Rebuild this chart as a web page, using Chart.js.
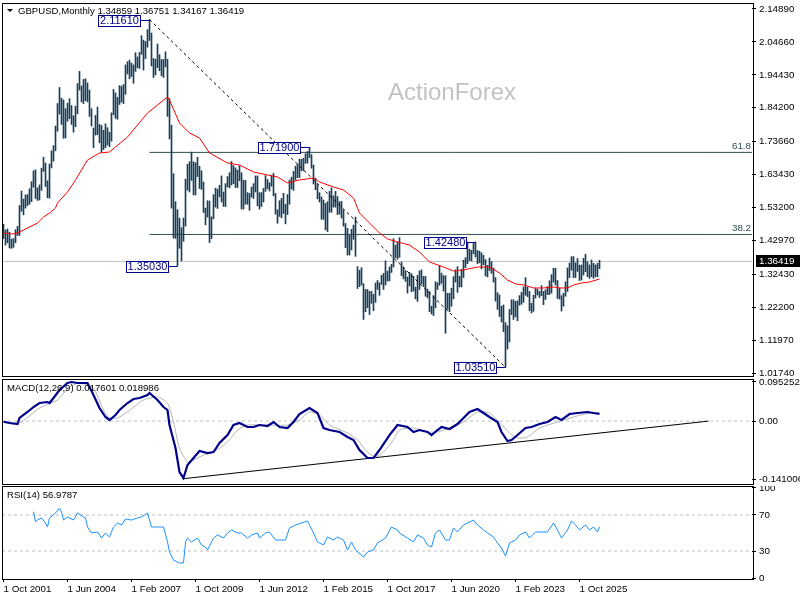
<!DOCTYPE html>
<html>
<head>
<meta charset="utf-8">
<title>GBPUSD Monthly</title>
<script src="https://cdn.jsdelivr.net/npm/chart.js@4.4.1/dist/chart.umd.min.js"></script>
<style>
  html, body { margin: 0; padding: 0; background: #fff; }
  #wrap { position: relative; width: 800px; height: 600px; overflow: hidden; }
  #wrap canvas { position: absolute; left: 0; }
</style>
</head>
<body>
<div id="wrap">
  <canvas id="priceChart" width="800" height="378" style="top:0"></canvas>
  <canvas id="macdChart" width="800" height="108" style="top:378px"></canvas>
  <canvas id="rsiChart" width="800" height="114" style="top:486px"></canvas>
</div>
<script>
// Monthly bars, index 0 = Oct 2001
const highs = [
  1.4800, 1.4620, 1.4650,
  1.4550, 1.4340, 1.4350, 1.4630, 1.4730, 1.5380, 1.5830, 1.5580, 1.5710, 1.5720, 1.5900, 1.6120,
  1.6460, 1.6490, 1.5930, 1.6020, 1.6540, 1.6880, 1.6700, 1.6150, 1.6670, 1.7080, 1.7240, 1.7850,
  1.8550, 1.9050, 1.8720, 1.8660, 1.8390, 1.8560, 1.8700, 1.8490, 1.8170, 1.8470, 1.9170, 1.9550,
  1.9100, 1.9300, 1.9320, 1.9190, 1.8970, 1.8390, 1.7790, 1.8180, 1.8440, 1.7900, 1.7870, 1.7720,
  1.7920, 1.7800, 1.7660, 1.8260, 1.8990, 1.8880, 1.8740, 1.9110, 1.9090, 1.9140, 1.9750, 1.9850,
  1.9900, 1.9810, 1.9750, 2.0130, 2.0000, 2.0140, 2.0660, 2.0520, 2.0480, 2.0850, 2.1161, 2.0740,
  1.9950, 1.9930, 2.0400, 2.0070, 1.9920, 1.9920, 2.0160, 1.9930, 1.8700, 1.7880, 1.6370, 1.5500,
  1.5250, 1.4990, 1.4690, 1.4990, 1.6200, 1.6660, 1.6740, 1.7040, 1.6740, 1.6710, 1.6880, 1.6600,
  1.6460, 1.6110, 1.5300, 1.5530, 1.5520, 1.5030, 1.5720, 1.5920, 1.5890, 1.6010, 1.6300, 1.5800,
  1.6060, 1.6280, 1.6400, 1.6750, 1.6620, 1.6550, 1.6480, 1.6620, 1.6400, 1.6170, 1.6160, 1.5780,
  1.5760, 1.5950, 1.6060, 1.6300, 1.6300, 1.5780, 1.5780, 1.5910, 1.6310, 1.6190, 1.6090, 1.6310,
  1.6380, 1.5760, 1.5250, 1.5530, 1.5600, 1.5760, 1.5420, 1.5720, 1.6170, 1.6260, 1.6440, 1.6600,
  1.6670, 1.6820, 1.6820, 1.6850, 1.6990, 1.7060, 1.7190, 1.6960, 1.6640, 1.6230, 1.6030, 1.5780,
  1.5650, 1.5550, 1.5450, 1.5500, 1.5820, 1.5930, 1.5680, 1.5820, 1.5660, 1.5500, 1.5510, 1.5240,
  1.4820, 1.4670, 1.4460, 1.4640, 1.4770, 1.5020, 1.3480, 1.3370, 1.3450, 1.2950, 1.2770, 1.2770,
  1.2710, 1.2710, 1.2620, 1.2970, 1.3050, 1.2980, 1.3210, 1.3270, 1.3660, 1.3340, 1.3470, 1.3550,
  1.4350, 1.4150, 1.4240, 1.4380, 1.3620, 1.3470, 1.3360, 1.3160, 1.3300, 1.3260, 1.3180, 1.2840,
  1.3210, 1.3350, 1.3380, 1.3180, 1.3180, 1.2780, 1.2710, 1.2250, 1.2580, 1.3010, 1.2980, 1.3510,
  1.3280, 1.3200, 1.3200, 1.2650, 1.2650, 1.2810, 1.3170, 1.3380, 1.3480, 1.3180, 1.3400, 1.3680,
  1.3760, 1.4240, 1.4020, 1.3990, 1.4220, 1.4248, 1.3980, 1.3960, 1.3910, 1.3830, 1.3700, 1.3520,
  1.3750, 1.3640, 1.3440, 1.3140, 1.2670, 1.2600, 1.2250, 1.2290, 1.1740, 1.1640, 1.2150, 1.2450,
  1.2450, 1.2400, 1.2420, 1.2580, 1.2680, 1.2850, 1.3140, 1.2840, 1.2710, 1.2340, 1.2590, 1.2800,
  1.2780, 1.2710, 1.2890, 1.2710, 1.2760, 1.2860, 1.3040, 1.3230, 1.3430, 1.3430, 1.3050, 1.2810,
  1.2580, 1.2650, 1.3010, 1.3440, 1.3590, 1.3790, 1.3790, 1.3600, 1.3730, 1.3530, 1.3530, 1.3740,
  1.3870, 1.3635, 1.3532, 1.3687, 1.3584, 1.3532, 1.3584, 1.36751
];
const lows = [
  1.4350, 1.4150, 1.4220,
  1.4060, 1.4050, 1.4080, 1.4220, 1.4450, 1.4450, 1.5200, 1.5090, 1.5300, 1.5380, 1.5420, 1.5500,
  1.5950, 1.5600, 1.5540, 1.5550, 1.5850, 1.6440, 1.5970, 1.5620, 1.5610, 1.6550, 1.6760, 1.7080,
  1.7690, 1.8220, 1.7900, 1.7470, 1.7480, 1.8000, 1.8080, 1.7900, 1.7660, 1.7830, 1.8230, 1.8970,
  1.8600, 1.8550, 1.8640, 1.8600, 1.8150, 1.7850, 1.7180, 1.7570, 1.7580, 1.7330, 1.7040, 1.7120,
  1.7180, 1.7260, 1.7210, 1.7380, 1.8200, 1.8090, 1.8060, 1.8520, 1.8590, 1.8550, 1.8840, 1.9470,
  1.9320, 1.9390, 1.9180, 1.9550, 1.9660, 1.9640, 2.0080, 1.9590, 1.9950, 2.0300, 2.0510, 1.9720,
  1.9360, 1.9440, 1.9670, 1.9570, 1.9410, 1.9360, 1.9690, 1.8150, 1.7450, 1.5300, 1.4370, 1.4360,
  1.3503, 1.4050, 1.3660, 1.4270, 1.4740, 1.5860, 1.5800, 1.6160, 1.5710, 1.5710, 1.6280, 1.5910,
  1.5880, 1.5160, 1.4780, 1.5020, 1.4230, 1.4350, 1.4970, 1.5330, 1.5290, 1.5650, 1.5490, 1.5350,
  1.5350, 1.5960, 1.5930, 1.6020, 1.6060, 1.5940, 1.5940, 1.6150, 1.5270, 1.5270, 1.5420, 1.5420,
  1.5230, 1.5640, 1.5600, 1.5800, 1.5370, 1.5270, 1.5350, 1.5490, 1.5820, 1.5900, 1.5830, 1.5980,
  1.5680, 1.5110, 1.4830, 1.5040, 1.5000, 1.5130, 1.4810, 1.5100, 1.5420, 1.5890, 1.5850, 1.6180,
  1.6250, 1.6250, 1.6460, 1.6460, 1.6690, 1.6700, 1.6870, 1.6540, 1.6050, 1.5870, 1.5590, 1.5490,
  1.4950, 1.4950, 1.4630, 1.4570, 1.5170, 1.5170, 1.5330, 1.5330, 1.5100, 1.5110, 1.4990, 1.4740,
  1.4070, 1.3840, 1.3840, 1.4000, 1.4330, 1.3800, 1.2800, 1.2860, 1.2910, 1.1840, 1.2080, 1.2200,
  1.1990, 1.2340, 1.2110, 1.2370, 1.2770, 1.2590, 1.2930, 1.2770, 1.2910, 1.3030, 1.3040, 1.3300,
  1.3470, 1.3760, 1.3710, 1.3770, 1.3200, 1.3100, 1.3020, 1.2660, 1.2880, 1.2700, 1.2720, 1.2480,
  1.2400, 1.2770, 1.2950, 1.2860, 1.2560, 1.2510, 1.2080, 1.2010, 1.1960, 1.2200, 1.2770, 1.2900,
  1.2960, 1.2720, 1.1410, 1.2160, 1.2080, 1.2250, 1.2480, 1.3000, 1.2680, 1.2850, 1.2850, 1.3140,
  1.3450, 1.3570, 1.3670, 1.3660, 1.3880, 1.3780, 1.3570, 1.3600, 1.3410, 1.3540, 1.3190, 1.3160,
  1.3360, 1.3270, 1.3000, 1.2410, 1.2150, 1.1930, 1.1760, 1.1460, 1.0351, 1.0920, 1.1140, 1.1990,
  1.1840, 1.1920, 1.1800, 1.2280, 1.2310, 1.2370, 1.2590, 1.2550, 1.2110, 1.2040, 1.2090, 1.2500,
  1.2600, 1.2520, 1.2580, 1.2300, 1.2460, 1.2610, 1.2610, 1.2660, 1.3000, 1.2910, 1.2490, 1.2470,
  1.2100, 1.2250, 1.2560, 1.2710, 1.3140, 1.3370, 1.3140, 1.3140, 1.3330, 1.3050, 1.3065, 1.3220,
  1.3324, 1.3169, 1.3117, 1.3169, 1.3117, 1.3169, 1.3169, 1.34167
];

// red moving average at these bar indices
const maIdx = [0, 4, 7, 10, 13, 17, 20, 23, 26, 27, 32, 36, 42, 48, 53, 62, 72, 82, 83, 88, 93, 98, 103, 112, 118, 125, 132, 137, 142, 148, 155, 158, 165, 170, 175, 178, 183, 188, 192, 197, 203, 208, 213, 220, 225, 230, 237, 243, 248, 252, 256, 260, 265, 270, 275, 278, 282, 285, 289, 293, 298];
const maValues = [1.4526, 1.4495, 1.4526, 1.4619, 1.4713, 1.4837, 1.5023, 1.5148, 1.5303, 1.5459, 1.5801, 1.6174, 1.6796, 1.7013, 1.7044, 1.7510, 1.8256, 1.8754, 1.8660, 1.7946, 1.7634, 1.7479, 1.7013, 1.6702, 1.6640, 1.6422, 1.6329, 1.6267, 1.6080, 1.6174, 1.6236, 1.6112, 1.5956, 1.5863, 1.5614, 1.5148, 1.4837, 1.4526, 1.4340, 1.4246, 1.4153, 1.3936, 1.3625, 1.3469, 1.3345, 1.3376, 1.3469, 1.3469, 1.3283, 1.3065, 1.2941, 1.2910, 1.2817, 1.2817, 1.2848, 1.2817, 1.2817, 1.2910, 1.2972, 1.3003, 1.3096];

// MACD(12,26,9) main and signal lines
const macdIdx = [0, 3, 7, 8, 12, 15, 18, 22, 23, 25, 28, 32, 34, 37, 40, 42, 45, 48, 51, 53, 56, 58, 62, 65, 68, 72, 73, 77, 80, 82, 83, 86, 88, 90, 92, 95, 98, 102, 105, 108, 112, 115, 118, 122, 125, 128, 132, 135, 138, 142, 145, 148, 153, 157, 160, 163, 168, 172, 175, 178, 182, 185, 188, 193, 197, 202, 205, 208, 212, 214, 217, 219, 223, 227, 230, 233, 237, 240, 243, 247, 249, 252, 254, 257, 261, 264, 268, 272, 276, 279, 283, 287, 292, 295, 298];
const macdValues = [-0.0015, -0.0046, -0.0071, 0.0076, 0.0222, 0.0343, 0.0441, 0.0465, 0.0441, 0.0563, 0.0757, 0.0928, 0.0952, 0.0928, 0.0928, 0.0928, 0.0636, 0.0319, 0.0100, 0.0027, 0.0149, 0.0271, 0.0441, 0.0539, 0.0563, 0.0636, 0.0684, 0.0514, 0.0343, 0.0271, -0.0095, -0.0655, -0.1240, -0.1386, -0.1069, -0.0899, -0.0728, -0.0777, -0.0753, -0.0533, -0.0339, -0.0095, -0.0044, -0.0144, -0.0144, -0.0095, -0.0119, -0.0022, -0.0144, -0.0168, -0.0022, 0.0173, 0.0319, 0.0197, -0.0168, -0.0217, -0.0265, -0.0387, -0.0460, -0.0704, -0.0899, -0.0899, -0.0704, -0.0339, -0.0095, -0.0144, -0.0265, -0.0217, -0.0265, -0.0339, -0.0217, -0.0144, -0.0192, -0.0071, 0.0076, 0.0222, 0.0295, 0.0197, 0.0100, -0.0022, -0.0265, -0.0485, -0.0460, -0.0339, -0.0168, -0.0144, -0.0071, -0.0022, 0.0100, 0.0027, 0.0173, 0.0197, 0.0222, 0.0197, 0.017601];
const signalIdx = [0, 8, 18, 27, 33, 38, 45, 50, 53, 57, 62, 70, 77, 82, 85, 88, 92, 95, 100, 105, 112, 117, 122, 132, 142, 148, 153, 158, 163, 172, 177, 182, 186, 190, 195, 198, 205, 212, 217, 223, 230, 237, 243, 248, 253, 257, 262, 268, 277, 285, 293, 298];
const signalValues = [-0.0010, -0.0046, 0.0319, 0.0514, 0.0831, 0.0928, 0.0806, 0.0270, 0.0076, 0.0076, 0.0222, 0.0514, 0.0587, 0.0441, -0.0022, -0.0655, -0.0996, -0.0947, -0.0826, -0.0753, -0.0509, -0.0217, -0.0095, -0.0095, -0.0095, 0.0027, 0.0222, 0.0149, -0.0095, -0.0290, -0.0460, -0.0753, -0.0874, -0.0753, -0.0460, -0.0217, -0.0168, -0.0265, -0.0265, -0.0168, -0.0022, 0.0222, 0.0197, -0.0022, -0.0290, -0.0412, -0.0387, -0.0168, -0.0022, 0.0100, 0.0197, 0.018986];
const macdTrendIdx = [89.5, 352.5];
const macdTrendValues = [-0.1405, 0.0];

// RSI(14)
const rsiIdx = [15, 16, 17, 19, 21, 22, 23, 26, 28, 29, 30, 32, 35, 37, 40, 41, 42, 44, 47, 49, 51, 53, 55, 57, 59, 61, 64, 67, 69, 72, 74, 77, 80, 82, 83, 85, 88, 90, 91, 92, 94, 97, 99, 101, 102, 105, 107, 110, 112, 114, 117, 119, 122, 124, 127, 128, 131, 133, 136, 138, 141, 143, 146, 149, 152, 155, 157, 160, 162, 165, 167, 170, 172, 174, 176, 180, 182, 185, 187, 191, 194, 197, 198, 202, 205, 207, 210, 212, 214, 216, 218, 221, 223, 225, 227, 230, 232, 235, 237, 240, 242, 245, 247, 249, 251, 253, 256, 258, 261, 263, 266, 269, 272, 275, 277, 279, 282, 284, 286, 288, 291, 293, 295, 297, 298];
const rsiValues = [73.7, 62.6, 64.4, 66.7, 61.1, 56.7, 66.7, 72.2, 77.8, 73.3, 64.4, 67.8, 64.4, 72.2, 67.8, 66.7, 56.7, 50.0, 51.1, 44.4, 50.0, 45.6, 56.7, 61.1, 58.9, 65.6, 64.4, 66.7, 67.8, 72.2, 56.7, 56.7, 56.7, 40.0, 28.9, 20.0, 16.7, 16.7, 40.0, 44.4, 40.0, 44.4, 36.7, 34.4, 31.1, 44.4, 47.8, 44.4, 50.0, 53.3, 50.0, 50.0, 44.4, 47.8, 50.0, 44.4, 50.0, 51.1, 42.2, 42.2, 42.2, 55.6, 58.9, 61.1, 63.3, 50.0, 40.0, 36.7, 45.6, 42.2, 45.6, 42.2, 31.1, 40.0, 31.1, 23.3, 28.9, 31.1, 38.9, 44.4, 56.7, 53.3, 50.0, 44.4, 40.0, 47.8, 44.4, 36.7, 34.4, 50.0, 53.3, 42.2, 42.2, 55.6, 51.1, 58.9, 61.1, 64.4, 58.9, 53.3, 50.0, 45.6, 38.9, 33.3, 24.4, 38.9, 42.2, 47.8, 51.1, 44.4, 51.1, 51.1, 51.1, 61.1, 53.3, 44.4, 53.3, 63.3, 58.9, 53.3, 58.9, 53.3, 56.7, 51.1, 56.9787];
const rsiLevels = [70, 30];

// swing-point labels, fibonacci levels
const swingIdx = [73, 153, 87, 236, 251];
const swingPrices = [2.1161, 1.7190, 1.3503, 1.4248, 1.0351];
const fibStartIdx = 73;
const fibLevels = ['61.8', '38.2'];
const fibPrices = [1.70316, 1.44804];

const ohlcHeader = [1.34859, 1.36751, 1.34167, 1.36419];
const lastPrice = 1.36419;

// axis ticks
const priceTicks = [2.14890, 2.04660, 1.94430, 1.84200, 1.73660, 1.63430, 1.53200, 1.42970, 1.32430, 1.22200, 1.11970, 1.01740];
const macdTicks = [0.095252, 0, -0.141006];
const rsiTicks = [100, 70, 30, 0];
const timeTickIdx = [0, 32, 64, 96, 128, 160, 192, 224, 256, 288];
const timeLabels = ['1 Oct 2001', '1 Jun 2004', '1 Feb 2007', '1 Oct 2009', '1 Jun 2012', '1 Feb 2015', '1 Oct 2017', '1 Jun 2020', '1 Feb 2023', '1 Oct 2025'];

const FONT = '"Liberation Sans", Arial, sans-serif';
Chart.defaults.font.family = FONT;
Chart.defaults.font.size = 9.8;
Chart.defaults.color = '#000';

const xMin = -0.75, xMax = 374.25;

function zeroPad(axis) {
    axis.paddingLeft = 0; axis.paddingRight = 0; axis.paddingTop = 0; axis.paddingBottom = 0;
}

function hiddenX() {
    return { type: 'linear', min: xMin, max: xMax, offset: false, display: false, afterFit: zeroPad };
}

function rightAxis(min, max, ticks, fmt) {
    return {
        type: 'linear', position: 'right', min: min, max: max,
        afterBuildTicks: function(axis) { axis.ticks = ticks.map(v => ({ value: v })); },
        afterFit: function(axis) { axis.width = 48; zeroPad(axis); },
        border: { display: false },
        grid: { drawOnChartArea: false, drawTicks: true, tickLength: 4, color: '#000' },
        ticks: { padding: 3, autoSkip: false, color: '#000', callback: fmt }
    };
}

function points(xs, ys) {
    return xs.map((x, k) => ({ x: x, y: ys[k] }));
}

function flatLine(v, from) {
    return [{ x: from, y: v }, { x: xMax, y: v }];
}

function frame(chart) {
    const ctx = chart.ctx, a = chart.chartArea;
    ctx.save();
    ctx.strokeStyle = '#000';
    ctx.lineWidth = 1;
    ctx.strokeRect(a.left + 0.5, a.top + 0.5, a.right - a.left + 1, a.bottom - a.top);
    ctx.restore();
}

function panelTitle(ctx, text, x, y) {
    ctx.save();
    ctx.font = '9.6px ' + FONT;
    ctx.fillStyle = '#000';
    ctx.textAlign = 'left';
    ctx.textBaseline = 'middle';
    ctx.fillText(text, x, y);
    ctx.restore();
}

const baseOptions = {
    responsive: false,
    animation: false,
    events: [],
    plugins: { legend: { display: false }, tooltip: { enabled: false } }
};

// ---------- price panel ----------
const priceOverlay = {
    id: 'priceOverlay',
    beforeDatasetsDraw(chart) {
        const ctx = chart.ctx;
        ctx.save();
        ctx.font = '24px ' + FONT;
        ctx.fillStyle = '#c3c3c3';
        ctx.textAlign = 'left';
        ctx.textBaseline = 'middle';
        ctx.fillText('ActionForex', 388, 93);
        ctx.restore();
    },
    afterDatasetsDraw(chart) {
        const ctx = chart.ctx, a = chart.chartArea;
        const xs = chart.scales.x, ys = chart.scales.y;
        ctx.save();

        // fibonacci level captions
        ctx.font = '9.8px ' + FONT;
        ctx.fillStyle = '#2f4f4f';
        ctx.textAlign = 'right';
        ctx.textBaseline = 'bottom';
        fibPrices.forEach((p, k) => {
            ctx.fillText(fibLevels[k], a.right - 1, Math.round(ys.getPixelForValue(p)) - 1);
        });

        // swing labels
        ctx.font = '11px ' + FONT;
        ctx.textAlign = 'center';
        ctx.textBaseline = 'middle';
        ctx.lineWidth = 1;
        swingIdx.forEach((idx, k) => {
            const bx = xs.getPixelForValue(idx);
            const r = Math.round(ys.getPixelForValue(swingPrices[k]));
            const right = Math.round(bx) - 10;
            const left = right - 42;
            ctx.strokeStyle = '#00008b';
            ctx.beginPath();
            ctx.moveTo(right, r + 0.5);
            ctx.lineTo(bx, r + 0.5);
            ctx.stroke();
            ctx.fillStyle = '#fff';
            ctx.fillRect(left, r - 5, 42, 11);
            ctx.strokeRect(left + 0.5, r - 5 + 0.5, 42, 11);
            ctx.fillStyle = '#00008b';
            ctx.fillText(swingPrices[k].toFixed(5), left + 21.5, r + 1);
        });

        // current price tag on the axis
        const cy = Math.round(ys.getPixelForValue(lastPrice));
        ctx.fillStyle = '#000';
        ctx.fillRect(a.right + 4, cy - 6, 44, 12);
        ctx.fillStyle = '#fff';
        ctx.font = '9.8px ' + FONT;
        ctx.textAlign = 'left';
        ctx.fillText(lastPrice.toFixed(5), a.right + 7, cy + 0.5);
        ctx.restore();

        frame(chart);

        // header
        ctx.save();
        ctx.fillStyle = '#000';
        ctx.beginPath();
        ctx.moveTo(7, 9); ctx.lineTo(13, 9); ctx.lineTo(10, 12); ctx.closePath();
        ctx.fill();
        ctx.restore();
        panelTitle(ctx, 'GBPUSD,Monthly ' + ohlcHeader.map(v => v.toFixed(5)).join(' '), 18, 11);
    }
};

new Chart(document.getElementById('priceChart'), {
    type: 'bar',
    data: {
        datasets: [
            {
                type: 'line', label: 'trend', order: 1,
                data: [{ x: swingIdx[0], y: swingPrices[0] }, { x: swingIdx[4], y: swingPrices[4] }],
                borderColor: '#000', borderWidth: 1, borderDash: [3, 3], pointRadius: 0
            },
            {
                type: 'line', label: 'MA', order: 2,
                data: points(maIdx, maValues),
                borderColor: '#ff0000', borderWidth: 1, pointRadius: 0, tension: 0
            },
            {
                type: 'bar', label: 'GBPUSD', order: 3,
                data: highs.map((h, i) => ({ x: i, y: [lows[i], h] })),
                backgroundColor: '#173f5a', borderWidth: 0, barThickness: 1
            },
            {
                type: 'line', label: 'fib 61.8', order: 4,
                data: flatLine(fibPrices[0], fibStartIdx),
                borderColor: '#2f4f4f', borderWidth: 1, pointRadius: 0
            },
            {
                type: 'line', label: 'fib 38.2', order: 4,
                data: flatLine(fibPrices[1], fibStartIdx),
                borderColor: '#2f4f4f', borderWidth: 1, pointRadius: 0
            },
            {
                type: 'line', label: 'last', order: 5,
                data: flatLine(lastPrice, xMin),
                borderColor: '#c0c0c0', borderWidth: 1, pointRadius: 0
            }
        ]
    },
    options: Object.assign({}, baseOptions, {
        layout: { padding: { left: 2, right: 0, top: 3, bottom: 2 } },
        scales: {
            x: hiddenX(),
            y: rightAxis(1.00808, 2.16755, priceTicks, v => v.toFixed(5))
        }
    }),
    plugins: [priceOverlay]
});

// ---------- MACD panel ----------
new Chart(document.getElementById('macdChart'), {
    type: 'line',
    data: {
        datasets: [
            {
                label: 'MACD', order: 0,
                data: points(macdIdx, macdValues),
                borderColor: '#00008b', borderWidth: 2.2, pointRadius: 0, tension: 0
            },
            {
                label: 'Signal', order: 1,
                data: points(signalIdx, signalValues),
                borderColor: '#b4b4b4', borderWidth: 1, pointRadius: 0, tension: 0.2
            },
            {
                label: 'trend', order: 2,
                data: points(macdTrendIdx, macdTrendValues),
                borderColor: '#000', borderWidth: 1, pointRadius: 0
            },
            {
                label: 'zero', order: 3,
                data: flatLine(0, xMin),
                borderColor: '#c0c0c0', borderWidth: 1, borderDash: [3, 3], pointRadius: 0
            }
        ]
    },
    options: Object.assign({}, baseOptions, {
        layout: { padding: { left: 2, right: 0, top: 1, bottom: 2 } },
        scales: {
            x: hiddenX(),
            y: rightAxis(-0.153165, 0.102558, macdTicks, v => v === 0 ? '0.00' : v.toFixed(6))
        }
    }),
    plugins: [{
        id: 'macdOverlay',
        afterDatasetsDraw(chart) {
            frame(chart);
            panelTitle(chart.ctx, 'MACD(12,26,9) ' + macdValues[macdValues.length - 1].toFixed(6) + ' ' + signalValues[signalValues.length - 1].toFixed(6), 7, 10);
        }
    }]
});

// ---------- RSI panel ----------
new Chart(document.getElementById('rsiChart'), {
    type: 'line',
    data: {
        datasets: [
            {
                label: 'RSI', order: 0,
                data: points(rsiIdx, rsiValues),
                borderColor: '#1e90ff', borderWidth: 1, pointRadius: 0, tension: 0
            },
            {
                label: '70', order: 1,
                data: flatLine(rsiLevels[0], xMin),
                borderColor: '#c0c0c0', borderWidth: 1, borderDash: [3, 3], pointRadius: 0
            },
            {
                label: '30', order: 1,
                data: flatLine(rsiLevels[1], xMin),
                borderColor: '#c0c0c0', borderWidth: 1, borderDash: [3, 3], pointRadius: 0
            }
        ]
    },
    options: Object.assign({}, baseOptions, {
        layout: { padding: { left: 2, right: 0, top: 0, bottom: 0 } },
        scales: {
            x: {
                type: 'linear', min: xMin, max: xMax, offset: false, position: 'bottom',
                afterBuildTicks: function(axis) { axis.ticks = timeTickIdx.map(v => ({ value: v })); },
                afterFit: function(axis) { axis.height = 21; zeroPad(axis); },
                border: { display: false },
                grid: { drawOnChartArea: false, drawTicks: true, tickLength: 3, color: '#000' },
                ticks: {
                    align: 'start', padding: 1, maxRotation: 0, autoSkip: false, color: '#000',
                    callback: v => timeLabels[timeTickIdx.indexOf(v)]
                }
            },
            y: rightAxis(-1.111, 102.222, rsiTicks, v => String(v))
        }
    }),
    plugins: [{
        id: 'rsiOverlay',
        afterDatasetsDraw(chart) {
            frame(chart);
            panelTitle(chart.ctx, 'RSI(14) ' + rsiValues[rsiValues.length - 1].toFixed(4), 7, 9);
        }
    }]
});
</script>
</body>
</html>
